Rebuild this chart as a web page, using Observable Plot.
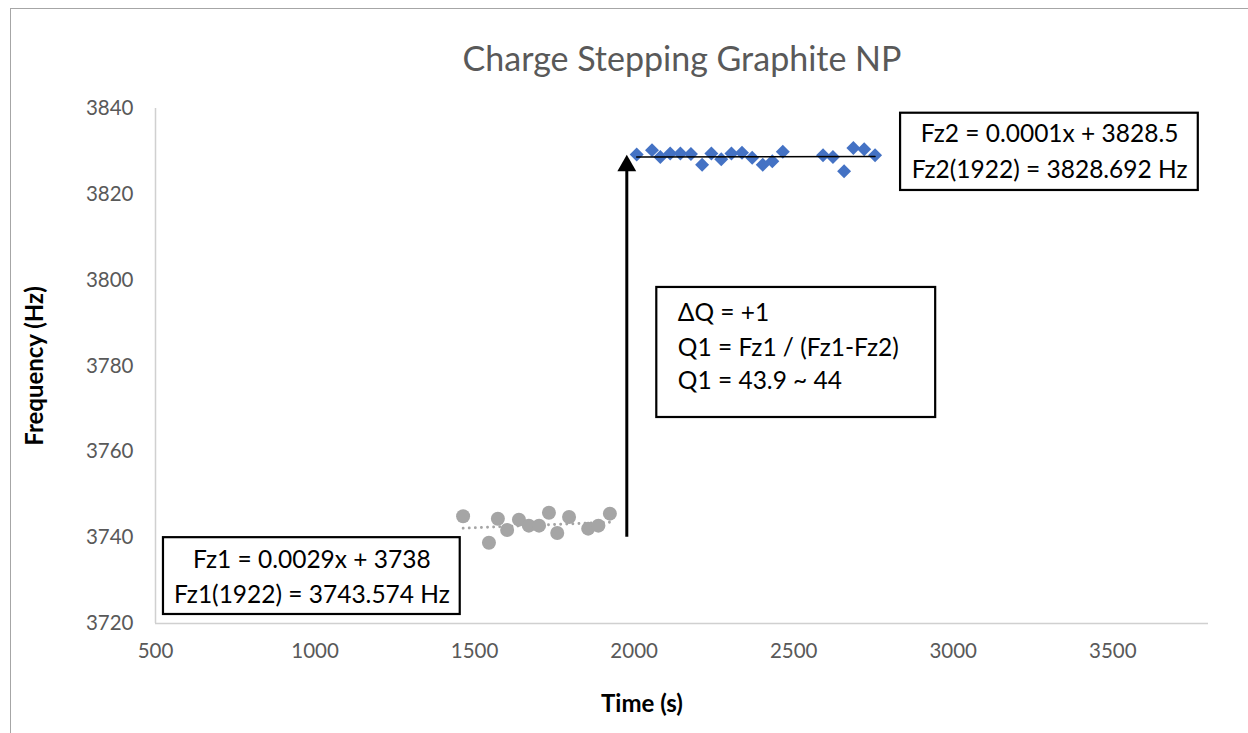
<!DOCTYPE html>
<html>
<head>
<meta charset="utf-8">
<script src="https://cdn.jsdelivr.net/npm/d3@7"></script>
<script src="https://cdn.jsdelivr.net/npm/@observablehq/plot@0.6"></script>
<style>
  html, body { margin: 0; padding: 0; background: #fff; }
  #wrap { position: relative; width: 1248px; height: 733px; overflow: hidden; }
  #border { position: absolute; left: 10px; top: 8px; width: 1260px; height: 760px; border: 1.5px solid #a6a6a6; box-sizing: border-box; }
  #chart { position: absolute; left: 0; top: 0; }
</style>
</head>
<body>
<div id="wrap"><div id="border"></div><div id="chart"></div></div>
<script>
// Series 1 (before step) — gray circles
const time1 = [1464, 1545, 1573, 1602, 1639, 1670, 1702, 1733, 1759, 1796, 1856, 1888, 1924];
const freq1 = [3745.0, 3738.8, 3744.4, 3741.8, 3744.2, 3742.8, 3742.8, 3745.8, 3741.1, 3744.8, 3742.1, 3742.8, 3745.6];
// Series 2 (after step) — blue diamonds
const time2 = [2008, 2056, 2082, 2113, 2145, 2178, 2213, 2242, 2273, 2305, 2338, 2370, 2403, 2433, 2466, 2592, 2623, 2658, 2687, 2721, 2755];
const freq2 = [3829.3, 3830.3, 3828.7, 3829.5, 3829.5, 3829.4, 3826.9, 3829.5, 3828.2, 3829.5, 3829.7, 3828.5, 3826.9, 3827.7, 3829.9, 3829.1, 3828.7, 3825.4, 3830.8, 3830.5, 3829.1];
// Linear trendlines (endpoints)
const trend1X = [1464, 1924];
const trend1Y = [3742.2, 3743.6];
const trend2X = [2008, 2755];
const trend2Y = [3828.7, 3828.8];
// Step arrow
const arrowX = 1977;
const arrowFrom = 3742.4;
const arrowTo = 3829.0;
// Axes
const xTicks = [500, 1000, 1500, 2000, 2500, 3000, 3500];
const yTicks = [3720, 3740, 3760, 3780, 3800, 3820, 3840];
const xDomain = [500, 3800];
const yDomain = [3720, 3840];
// Texts
const titleText = "Charge Stepping Graphite NP";
const xLabel = "Time (s)";
const yLabel = "Frequency (Hz)";
const box1Lines = ["Fz1 = 0.0029x + 3738", "Fz1(1922) = 3743.574 Hz"];
const box2Lines = ["ΔQ = +1", "Q1 = Fz1 / (Fz1-Fz2)", "Q1 = 43.9 ~ 44"];
const box3Lines = ["Fz2 = 0.0001x + 3828.5", "Fz2(1922) = 3828.692 Hz"];
// Annotation boxes in data coordinates
const box1 = {x1: 525, x2: 1455, y1: 3722.1, y2: 3740.0};
const box2 = {x1: 2071, x2: 2945, y1: 3768.0, y2: 3798.3};
const box3 = {x1: 2835, x2: 3768, y1: 3820.9, y2: 3838.9};
const box1TextX = 990, box1TextY = [3734.7, 3726.5];
const box2TextX = 2137, box2TextY = [3792.3, 3784.1, 3776.4];
const box3TextX = 3302, box3TextY = [3834.0, 3825.6];

const s1 = time1.map((t, i) => ({t, f: freq1[i]}));
const s2 = time2.map((t, i) => ({t, f: freq2[i]}));
const tr1 = trend1X.map((t, i) => ({t, f: trend1Y[i]}));
const tr2 = trend2X.map((t, i) => ({t, f: trend2Y[i]}));
const boxes = [box1, box2, box3];
const boxText = [
  ...box1Lines.map((s, i) => ({s, x: box1TextX, y: box1TextY[i], a: "middle"})),
  ...box2Lines.map((s, i) => ({s, x: box2TextX, y: box2TextY[i], a: "start"})),
  ...box3Lines.map((s, i) => ({s, x: box3TextX, y: box3TextY[i], a: "middle"}))
];

const FONT = "Lato, 'Open Sans', sans-serif";
const GRAY = "#595959";
const fmt = d => String(d);

const chart = Plot.plot({
  width: 1248,
  height: 733,
  marginLeft: 155,
  marginRight: 40,
  marginTop: 108,
  marginBottom: 110,
  style: {fontFamily: FONT, background: "transparent", overflow: "visible"},
  x: {domain: xDomain, ticks: xTicks, label: null},
  y: {domain: yDomain, ticks: yTicks, label: null},
  marks: [
    Plot.ruleY([yDomain[0]], {stroke: "#d0d0d0", strokeWidth: 1.5}),
    Plot.ruleX([xDomain[0]], {stroke: "#d0d0d0", strokeWidth: 1.5}),
    Plot.axisX({ticks: xTicks, tickFormat: fmt, tickSize: 0, tickPadding: 20, fontSize: 20.5, color: GRAY, label: null}),
    Plot.axisY({ticks: yTicks, tickFormat: fmt, tickSize: 0, tickPadding: 22, fontSize: 20.5, color: GRAY, label: null}),
    // trendline 1 (dotted gray)
    Plot.line(tr1, {x: "t", y: "f", stroke: "#a5a5a5", strokeWidth: 2.8, strokeDasharray: "0.1,6", strokeLinecap: "round"}),
    Plot.dot(s1, {x: "t", y: "f", r: 7, fill: "#a5a5a5", symbol: "circle"}),
    // blue series
    Plot.dot(s2, {x: "t", y: "f", r: 6.3, fill: "#4472c4", symbol: "diamond2"}),
    Plot.line(tr2, {x: "t", y: "f", stroke: "#000", strokeWidth: 1.5}),
    // arrow
    Plot.ruleX([arrowX], {y1: arrowFrom, y2: arrowTo, stroke: "#000", strokeWidth: 3, dy: 10}),
    Plot.dot([{t: arrowX, f: arrowTo}], {x: "t", y: "f", symbol: "triangle", r: 7, fill: "#000", dy: 10}),
    // boxes
    Plot.rect(boxes, {x1: "x1", x2: "x2", y1: "y1", y2: "y2", fill: "#fff", stroke: "#000", strokeWidth: 2.2}),
    Plot.text(boxText, {x: "x", y: "y", text: "s", textAnchor: "start", fontSize: 24.5, fill: "#000", filter: d => d.a === "start"}),
    Plot.text(boxText, {x: "x", y: "y", text: "s", textAnchor: "middle", fontSize: 24.5, fill: "#000", filter: d => d.a === "middle"}),
    // title and axis labels
    Plot.text([titleText], {frameAnchor: "top", lineAnchor: "middle", dy: -48, fontSize: 34, fill: GRAY}),
    Plot.text([xLabel], {frameAnchor: "bottom", lineAnchor: "middle", textAnchor: "middle", dx: -40, dy: 81, fontSize: 24, fontWeight: "bold", fill: "#000"}),
    Plot.text([yLabel], {frameAnchor: "left", lineAnchor: "middle", textAnchor: "middle", dx: -120, rotate: -90, fontSize: 24, fontWeight: "bold", fill: "#000"})
  ]
});
document.getElementById("chart").appendChild(chart);
</script>
</body>
</html>
